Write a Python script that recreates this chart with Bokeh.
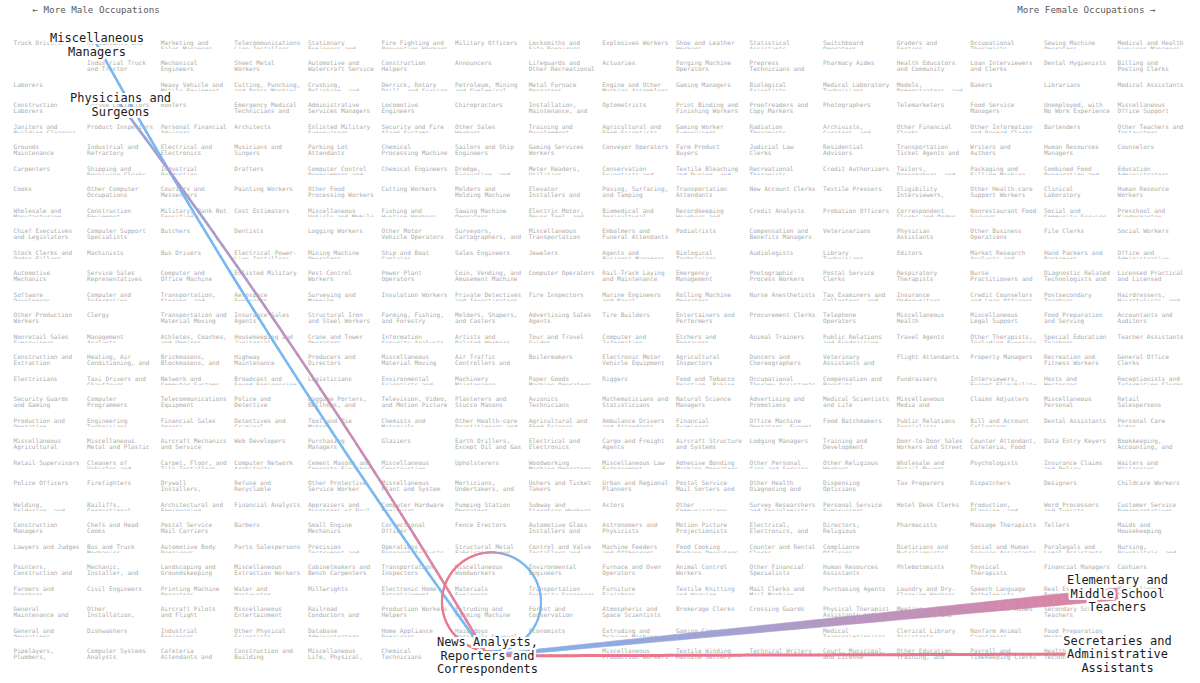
import textwrap
import numpy as np
from bokeh.plotting import figure
from bokeh.models import Range1d
from bokeh.embed import file_html
from bokeh.resources import INLINE
from bokeh.core.properties import value

# ---------------- data: occupations, grid columns (more male -> more female) ----------------
col01 = ["Truck Drivers", "", "Laborers", "Construction Laborers", "Janitors and Building Cleaners",
         "Grounds Maintenance Workers", "Carpenters", "Cooks", "Wholesale and Manufacturing",
         "Chief Executives and Legislators", "Stock Clerks and Order Fillers", "Automotive Mechanics",
         "Software Developers", "Other Production Workers", "Nonretail Sales Supervisors",
         "Construction and Extraction", "Electricians", "Security Guards and Gaming",
         "Production and Operating", "Miscellaneous Agricultural", "Retail Supervisors",
         "Police Officers", "Welding, Soldering, and", "Construction Managers", "Lawyers and Judges",
         "Painters, Construction and", "Farmers and Ranchers", "General Maintenance and",
         "General and Operations", "Pipelayers, Plumbers,"]
col02 = ["Accountants and Auditors", "Industrial Truck and Tractor", "", "Refuse Collectors",
         "Product Inspectors", "Industrial and Refractory", "Shipping and Receiving Clerks",
         "Other Computer Occupations", "Construction Equipment", "Computer Support Specialists",
         "Machinists", "Service Sales Representatives", "Computer and Information", "Clergy",
         "Management Analysts", "Heating, Air Conditioning, and", "Taxi Drivers and Chauffeurs",
         "Computer Programmers", "Engineering Technicians", "Miscellaneous Metal and Plastic",
         "Cleaners of Vehicles and", "Firefighters", "Bailiffs, Correctional", "Chefs and Head Cooks",
         "Bus and Truck Mechanics", "Mechanic, Installer, and", "Civil Engineers", "Other Installation,",
         "Dishwashers", "Computer Systems Analysts"]
col03 = ["Marketing and Sales Managers", "Mechanical Engineers", "Heavy Vehicle and Mobile Equipment",
         "Roofers", "Personal Financial Advisors", "Electrical and Electronics",
         "Industrial Production Managers", "Couriers and Messengers", "Military, Rank Not Specified",
         "Butchers", "Bus Drivers", "Computer and Office Machine", "Transportation, Storage, and",
         "Transportation and Material Moving", "Athletes, Coaches, and Umpires",
         "Brickmasons, Blockmasons, and", "Network and Computer Systems", "Telecommunications Equipment",
         "Financial Sales Agents", "Aircraft Mechanics and Service", "Carpet, Floor, and Tile Installers",
         "Drywall Installers,", "Architectural and Engineering", "Postal Service Mail Carriers",
         "Automotive Body Repairers", "Landscaping and Groundskeeping", "Printing Machine Operators",
         "Aircraft Pilots and Flight", "Industrial Engineers", "Cafeteria Attendants and"]
col04 = ["Telecommunications Line Installers", "Sheet Metal Workers", "Cutting, Punching, and Press Machine",
         "Emergency Medical Technicians and", "Architects", "Musicians and Singers", "Drafters",
         "Painting Workers", "Cost Estimators", "Dentists", "Electrical Power-Line Installers",
         "Enlisted Military", "Aerospace Engineers", "Insurance Sales Agents", "Housekeeping and Janitorial",
         "Highway Maintenance", "Broadcast and Sound Engineering", "Police and Detective",
         "Detectives and Criminal", "Web Developers", "Computer Network Architects", "Refuse and Recyclable",
         "Financial Analysts", "Barbers", "Parts Salespersons", "Miscellaneous Extraction Workers",
         "Water and Wastewater", "Miscellaneous Entertainment", "Other Physical Scientists",
         "Construction and Building"]
col05 = ["Stationary Engineers and", "Automotive and Watercraft Service", "Crushing, Polishing, and",
         "Administrative Services Managers", "Enlisted Military Supervisors", "Parking Lot Attendants",
         "Computer Control Programmers and", "Other Food Processing Workers", "Miscellaneous Vehicle and Mobile",
         "Logging Workers", "Mining Machine Operators", "Pest Control Workers", "Surveying and Mapping",
         "Structural Iron and Steel Workers", "Crane and Tower Operators", "Producers and Directors",
         "Logisticians", "Baggage Porters, Bellhops, and", "Tool and Die Makers", "Purchasing Managers",
         "Cement Masons and Concrete Finishers", "Other Protective Service Worker",
         "Appraisers and Assessors of Real", "Small Engine Mechanics", "Precision Instrument and",
         "Cabinetmakers and Bench Carpenters", "Millwrights", "Railroad Conductors and",
         "Database Administrators", "Miscellaneous Life, Physical,"]
col06 = ["Fire Fighting and Prevention Workers", "Construction Helpers", "Derrick, Rotary Drill, and Service",
         "Locomotive Engineers", "Security and Fire Alarm Systems", "Chemical Processing Machine",
         "Chemical Engineers", "Cutting Workers", "Fishing and Hunting Workers", "Other Motor Vehicle Operators",
         "Ship and Boat Captains", "Power Plant Operators", "Insulation Workers",
         "Farming, Fishing, and Forestry", "Information Security Analysts", "Miscellaneous Material Moving",
         "Environmental Scientists and", "Television, Video, and Motion Picture",
         "Chemists and Materials Scientists", "Glaziers", "Miscellaneous Construction",
         "Miscellaneous Plant and System", "Computer Hardware Engineers", "Correctional Officer",
         "Operations Research Analysts", "Transportation Inspectors", "Electronic Home Entertainment",
         "Production Workers Helpers", "Home Appliance Repairers", "Chemical Technicians"]
col07 = ["Military Officers", "Announcers", "Petroleum, Mining and Geological", "Chiropractors",
         "Other Sales Workers", "Sailors and Ship Engineers", "Dredge, Excavating, and",
         "Molders and Molding Machine", "Sawing Machine Operators", "Surveyors, Cartographers, and",
         "Sales Engineers", "Coin, Vending, and Amusement Machine", "Private Detectives and Investigators",
         "Molders, Shapers, and Casters", "Artists and Related Workers", "Air Traffic Controllers and",
         "Machinery Maintenance", "Plasterers and Stucco Masons", "Other Health-care Practitioners and",
         "Earth Drillers, Except Oil and Gas", "Upholsterers", "Morticians, Undertakers, and",
         "Pumping Station Operators", "Fence Erectors", "Structural Metal Fabricators and",
         "Miscellaneous Woodworkers", "Materials Engineers", "Extruding and Forming Machine",
         "Hazardous Materials Removal", ""]
col08 = ["Locksmiths and Safe Repairers", "Lifeguards and Other Recreational", "Metal Furnace Operators",
         "Installation, Maintenance, and", "Training and Development", "Gaming Services Workers",
         "Meter Readers, Utilities", "Elevator Installers and", "Electric Motor, Power Tool, and",
         "Miscellaneous Transportation", "Jewelers", "Computer Operators", "Fire Inspectors",
         "Advertising Sales Agents", "Tour and Travel Guides", "Boilermakers",
         "Paper Goods Machine Operators", "Avionics Technicians", "Agricultural and Food Science",
         "Electrical and Electronics", "Woodworking Machine Operators", "Ushers and Ticket Takers",
         "Subway and Streetcar Workers", "Automotive Glass Installers and", "Control and Valve Installers and",
         "Environmental Engineers", "Transportation Security Screeners", "Forest and Conservation",
         "Economists", ""]
col09 = ["Explosives Workers", "Actuaries", "Engine and Other Machine Assemblers", "Optometrists",
         "Agricultural and Food Scientists", "Conveyor Operators", "Conservation Scientists and",
         "Paving, Surfacing, and Tamping", "Biomedical and Agricultural", "Embalmers and Funeral Attendants",
         "Agents and Business Managers", "Rail-Track Laying and Maintenance", "Marine Engineers and Naval",
         "Tire Builders", "Computer and Information", "Electronic Motor Vehicle Equipment", "Riggers",
         "Mathematicians and Statisticians", "Ambulance Drivers and Attendants", "Cargo and Freight Agents",
         "Miscellaneous Law Enforcement", "Urban and Regional Planners", "Actors",
         "Astronomers and Physicists", "Machine Feeders and Offbearers", "Furnace and Oven Operators",
         "Furniture Finishers", "Atmospheric and Space Scientists", "Extruding and Drawing Machine",
         "Miscellaneous Production Workers"]
col10 = ["Shoe and Leather Workers", "Forging Machine Operators", "Gaming Managers",
         "Print Binding and Finishing Workers", "Gaming Worker Supervisors", "Farm Product Buyers",
         "Textile Bleaching and Dyeing, and", "Transportation Attendants", "Recordkeeping Weighers and",
         "Podiatrists", "Biological Technicians", "Emergency Management", "Rolling Machine Operators",
         "Entertainers and Performers", "Etchers and Engravers", "Agricultural Inspectors",
         "Food and Tobacco Roasting, Baking", "Natural Science Managers", "Financial Examiners",
         "Aircraft Structure and Systems", "Adhesive Bonding Machine Operators",
         "Postal Service Mail Sorters and", "Other Communications", "Motion Picture Projectionists",
         "Food Cooking Machine Operators", "Animal Control Workers", "Textile Knitting and Weaving",
         "Brokerage Clerks", "Gaming Cage Workers", "Textile Winding Machine Setters"]
col11 = ["Statistical Assistants", "Prepress Technicians and", "Biological Scientists",
         "Proofreaders and Copy Markers", "Radiation Therapists", "Judicial Law Clerks",
         "Recreational Therapists", "New Account Clerks", "Credit Analysts",
         "Compensation and Benefits Managers", "Audiologists", "Photographic Process Workers",
         "Nurse Anesthetists", "Procurement Clerks", "Animal Trainers", "Dancers and Choreographers",
         "Occupational Therapy Assistants", "Advertising and Promotions", "Office Machine Operators, Except",
         "Lodging Managers", "Other Personal Care and Service", "Other Health Diagnosing and",
         "Survey Researchers and Sociologists", "Electrical, Electronics, and", "Counter and Rental Clerks",
         "Other Financial Specialists", "Mail Clerks and Mail Machine", "Crossing Guards",
         "", "Technical Writers"]
col12 = ["Switchboard Operators", "Pharmacy Aides", "Medical Laboratory Technicians", "Photographers",
         "Archivists, Curators, and", "Residential Advisors", "Credit Authorizers", "Textile Pressers",
         "Probation Officers", "Veterinarians", "Library Technicians", "Postal Service Clerks",
         "Tax Examiners and Collectors, and", "Telephone Operators", "Public Relations and Fundraising",
         "Veterinary Assistants and", "Compensation and Benefits", "Medical Scientists and Life",
         "Food Batchmakers", "Training and Development", "Other Religious Workers", "Dispensing Opticians",
         "Personal Service Supervisors", "Directors, Religious", "Compliance Officers",
         "Human Resources Assistants", "Purchasing Agents", "Physical Therapist Assistants and",
         "Medical Transcriptionists", "Court, Municipal, and License"]
col13 = ["Graders and Sorters", "Health Educators and Community", "Models, Demonstrators, and",
         "Telemarketers", "Other Financial Clerks", "Transportation Ticket Agents and",
         "Tailors, Dressmakers, and", "Eligibility Interviewers,", "Correspondent Clerks and Order",
         "Physician Assistants", "Editors", "Respiratory Therapists", "Insurance Underwriters",
         "Miscellaneous Health", "Travel Agents", "Flight Attendants", "Fundraisers",
         "Miscellaneous Media and", "Public Relations Specialists", "Door-to-Door Sales Workers and Street",
         "Wholesale and Retail Buyers", "Tax Preparers", "Hotel Desk Clerks", "Pharmacists",
         "Dieticians and Nutritionists", "Phlebotomists", "Laundry and Dry-Cleaning Workers",
         "Meeting, Convention, and Event", "Clerical Library Assistants", "Other Education, Training, and"]
col14 = ["Occupational Therapists", "Loan Interviewers and Clerks", "Bakers", "Food Service Managers",
         "Other Information and Record Clerks", "Writers and Authors", "Packaging and Filling Machine",
         "Other Health-care Support Workers", "Nonrestaurant Food Servers", "Other Business Operations",
         "Market Research Analysts and", "Nurse Practitioners and", "Credit Counselors and Loan Officers",
         "Miscellaneous Legal Support", "Other Therapists, Including Exercise", "Property Managers",
         "Interviewers, Except Eligibility", "Claims Adjusters", "Bill and Account Collectors",
         "Counter Attendant, Cafeteria, Food", "Psychologists", "Dispatchers", "Production, Planning, and",
         "Massage Therapists", "Social and Human Service Assistants", "Physical Therapists",
         "Speech Language Pathologists", "Home Health Aides", "Nonfarm Animal Caretakers",
         "Payroll and Timekeeping Clerks"]
col15 = ["Sewing Machine Operators", "Dental Hygienists", "Librarians", "Unemployed, with No Work Experience",
         "Bartenders", "Human Resources Managers", "Combined Food Preparation and", "Clinical Laboratory",
         "Social and Community Service", "File Clerks", "Hand Packers and Packagers",
         "Diagnostic Related Technologists and", "Postsecondary Teachers", "Food Preparation and Serving",
         "Special Education Teachers", "Recreation and Fitness Workers", "Hosts and Hostesses",
         "Miscellaneous Personal", "Dental Assistants", "Data Entry Keyers", "Insurance Claims and Policy",
         "Designers", "Word Processors and Typists", "Tellers", "Paralegals and Legal Assistants",
         "Financial Managers", "Real Estate Brokers and", "Secondary School Teachers",
         "Food Preparation Workers", "Health Technologists"]
col16 = ["Medical and Health Services Managers", "Billing and Posting Clerks", "Medical Assistants",
         "Miscellaneous Office Support", "Other Teachers and Instructors", "Counselors",
         "Education Administrators", "Human Resource Workers", "Preschool and Kindergarten",
         "Social Workers", "Office and Administrative", "Licensed Practical and Licensed",
         "Hairdressers, Hairstylists, and", "Accountants and Auditors", "Teacher Assistants",
         "General Office Clerks", "Receptionists and Information Clerks", "Retail Salespersons",
         "Personal Care Aides", "Bookkeeping, Accounting, and", "Waiters and Waitresses",
         "Childcare Workers", "Customer Service Representatives", "Maids and Housekeeping",
         "Nursing, Psychiatric, and", "Cashiers", "Miscellaneous Secretaries", "", "", ""]
columns = [col01, col02, col03, col04, col05, col06, col07, col08,
           col09, col10, col11, col12, col13, col14, col15, col16]

# highlighted occupations: position on the grid (column, row; fractional)
node_names = ["Miscellaneous Managers", "Physicians and Surgeons",
              "News Analysts, Reporters and Correspondents",
              "Elementary and Middle School Teachers",
              "Secretaries and Administrative Assistants"]
node_col = [1.134, 1.454, 6.44, 15.0, 15.0]
node_row = [0.30, 3.16, 29.40, 26.45, 29.31]

# flows between highlighted occupations
link_from = [0, 1, 2, 2, 2]
link_to = [2, 2, 2, 3, 4]
link_w0 = [2.6, 2.6, 2.2, 3.0, 3.0]
link_w1 = [2.6, 2.6, 2.2, 12.0, 3.0]
link_c0 = ["#79b8f0", "#97a4da", "#79b8f0", "#7cb4f0", "#e9788f"]
link_c1 = ["#79b8f0", "#e7809a", "#e9798f", "#e3809e", "#e9788f"]
link_bend = [22.0, -18.0, 0.0, 0.0, 0.0]

# ---------------- layout ----------------
W, H = 1192, 680
X0, DX, Y0, DY = 13.0, 73.6, 38.0, 21.0
LINE2 = 6.7

def gx(c):
    return X0 + c * DX

def gy(r):
    return Y0 + r * DY

p = figure(width=W, height=H, x_range=Range1d(0, W), y_range=Range1d(H, 0),
           output_backend="svg", toolbar_location=None, min_border=0,
           x_axis_location=None, y_axis_location=None)
p.grid.visible = False
p.outline_line_color = None
p.background_fill_color = "white"
p.border_fill_color = "white"

MONO = "DejaVu Sans Mono"

# grid of occupation names
tx, ty, tt = [], [], []
clip_top, clip_bot = [], []
for ci, col in enumerate(columns):
    for ri, name in enumerate(col):
        x = gx(ci)
        y = gy(ri) - (ri % 2)
        if ci == 0 and ri % 2 == 0:
            clip_top.append(y + 10.6)
            clip_bot.append(y + 15.0)
        if not name:
            continue
        lines = textwrap.wrap(name, width=18)[:2]
        for li, ln in enumerate(lines):
            tx.append(x)
            ty.append(y + li * LINE2)
            tt.append(ln)

p.text(x=tx, y=ty, text=tt, text_font=value(MONO), text_font_size="6.1px",
       text_color="#ababab", text_baseline="top", text_align="left")
# rows whose second line is cut off
p.quad(left=[0] * len(clip_top), right=[W] * len(clip_top), top=clip_top, bottom=clip_bot,
       fill_color="white", line_color=None)

# ---------------- links ----------------
def hex2rgb(h):
    h = h.lstrip("#")
    return np.array([int(h[i:i + 2], 16) for i in (0, 2, 4)], dtype=float)

def mix(c0, c1, t):
    a, b = hex2rgb(c0), hex2rgb(c1)
    c = a + (b - a) * t
    return "#%02x%02x%02x" % tuple(int(round(v)) for v in c)

NX = [gx(c) for c in node_col]
NY = [gy(r) for r in node_row]
N = 80
for k in range(len(link_from)):
    s, e = link_from[k], link_to[k]
    if s == e:
        # self loop: circle above the node, leaving to the right (blue), returning from the left (pink)
        R = 49.5
        cx, cy = NX[s] + 4.0, NY[s] - 54.0
        ang = np.linspace(np.pi / 2, np.pi / 2 - 2 * np.pi, 161)
        px = cx + R * np.cos(ang)
        py = cy + R * np.sin(ang)
        tpos = np.linspace(0, 1, len(ang))
        x0s, y0s, x1s, y1s, cols = [], [], [], [], []
        for i in range(len(ang) - 1):
            tm = (tpos[i] + tpos[i + 1]) / 2
            tt_ = np.clip((tm - 0.40) / 0.16, 0, 1)
            tt_ = tt_ * tt_ * (3 - 2 * tt_)
            x0s.append(px[i]); y0s.append(py[i]); x1s.append(px[i + 1]); y1s.append(py[i + 1])
            cols.append(mix(link_c0[k], link_c1[k], tt_))
        p.segment(x0=x0s, y0=y0s, x1=x1s, y1=y1s, line_color=cols, line_width=link_w0[k], line_cap="round")
        continue
    P0 = np.array([NX[s], NY[s]])
    P1 = np.array([NX[e], NY[e]])
    d = P1 - P0
    L = np.hypot(*d)
    nrm = np.array([-d[1], d[0]]) / L
    C = (P0 + P1) / 2 + link_bend[k] * nrm
    t = np.linspace(0, 1, N + 1)
    pts = ((1 - t)[:, None] ** 2) * P0 + (2 * t * (1 - t))[:, None] * C + (t[:, None] ** 2) * P1
    w = link_w0[k] + (link_w1[k] - link_w0[k]) * t
    if link_w0[k] == link_w1[k]:
        cols = [mix(link_c0[k], link_c1[k], (t[i] + t[i + 1]) / 2) for i in range(N)]
        p.segment(x0=pts[:-1, 0], y0=pts[:-1, 1], x1=pts[1:, 0], y1=pts[1:, 1],
                  line_color=cols, line_width=link_w0[k], line_cap="round")
    else:
        xs, ys, cols = [], [], []
        for i in range(N):
            a, b = pts[i], pts[i + 1]
            dd = b - a
            nn = np.array([-dd[1], dd[0]]) / np.hypot(*dd)
            wa, wb = w[i] / 2, w[i + 1] / 2
            q = [a + nn * wa, b + nn * wb, b - nn * wb, a - nn * wa]
            xs.append([v[0] for v in q]); ys.append([v[1] for v in q])
            cols.append(mix(link_c0[k], link_c1[k], (t[i] + t[i + 1]) / 2))
        p.patches(xs=xs, ys=ys, fill_color=cols, line_color=cols, line_width=0.6)

# ---------------- labels of highlighted occupations (with white halo) ----------------
lx, ly, lt = [], [], []
LH = 13.5
for i, nm in enumerate(node_names):
    lines = textwrap.wrap(nm, width=15)
    n = len(lines)
    for j, ln in enumerate(lines):
        lx.append(NX[i])
        ly.append(NY[i] + (j - (n - 1) / 2) * LH)
        lt.append(ln)
for dx in (-2, -1, 0, 1, 2):
    for dy in (-2, -1, 0, 1, 2):
        if dx == 0 and dy == 0:
            continue
        p.text(x=lx, y=ly, text=lt, x_offset=dx, y_offset=dy, text_font=value(MONO),
               text_font_size="12px", text_color="white", text_align="center", text_baseline="middle")
p.text(x=lx, y=ly, text=lt, text_font=value(MONO), text_font_size="12px",
       text_color="#1b1b1b", text_align="center", text_baseline="middle")

# ---------------- direction headers ----------------
p.text(x=[32], y=[9], text=["\u2190 More Male Occupations"], text_font=value(MONO),
       text_font_size="9.2px", text_color="#5a5a5a", text_align="left", text_baseline="middle")
p.text(x=[1155], y=[9], text=["More Female Occupations \u2192"], text_font=value(MONO),
       text_font_size="9.2px", text_color="#5a5a5a", text_align="right", text_baseline="middle")

open("out.html", "w").write(file_html(p, INLINE))
